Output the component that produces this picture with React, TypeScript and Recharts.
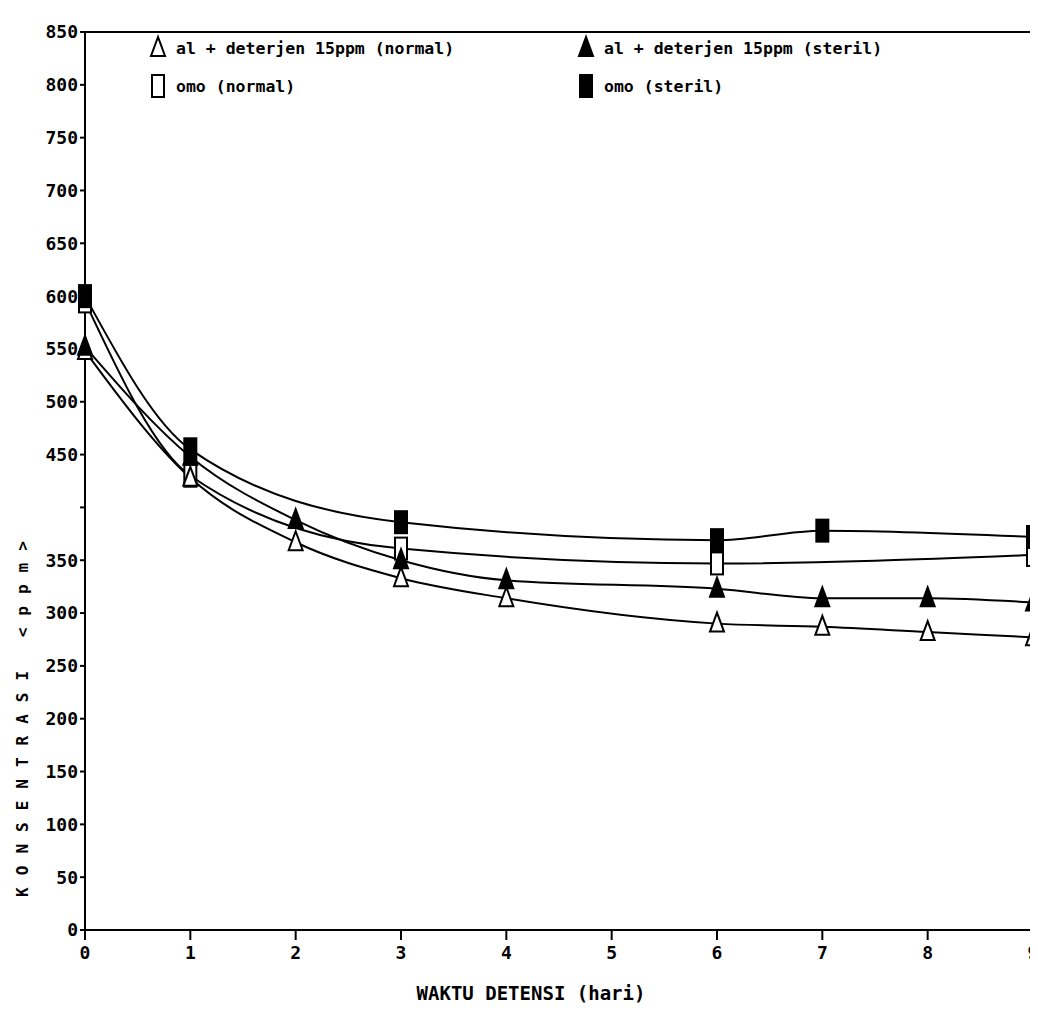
import {
  ComposedChart,
  Line,
  XAxis,
  YAxis,
  ReferenceLine,
  Label,
  Customized,
} from 'recharts'

const FONT = '"DejaVu Sans Mono", monospace'

// hari pengamatan
const days = [0, 1, 2, 3, 4, 6, 7, 8, 9]
const alNormal = [548, 428, 367, 333, 314, 290, 287, 282, 277]
const alSteril = [552, 448, 388, 350, 331, 323, 314, 314, 310]
const omoNormal = [595, 430, null, 361, null, 347, null, null, 355]
const omoSteril = [600, 455, null, 386, null, 369, 378, null, 372]

const xTicks = [0, 1, 2, 3, 4, 5, 6, 7, 8, 9]
const yTicks = [0, 50, 100, 150, 200, 250, 300, 350, 400, 450, 500, 550, 600, 650, 700, 750, 800, 850]

const data = days.map((d, i) => ({
  day: d,
  alNormal: alNormal[i],
  alSteril: alSteril[i],
  omoNormal: omoNormal[i],
  omoSteril: omoSteril[i],
}))

type Shape = 'tri' | 'sq'

const legendItems: { label: string; shape: Shape; filled: boolean }[] = [
  { label: 'al + deterjen 15ppm (normal)', shape: 'tri', filled: false },
  { label: 'al + deterjen 15ppm (steril)', shape: 'tri', filled: true },
  { label: 'omo (normal)', shape: 'sq', filled: false },
  { label: 'omo (steril)', shape: 'sq', filled: true },
]

function Marker({ cx, cy, shape, filled }: { cx: number; cy: number; shape: Shape; filled: boolean }) {
  const fill = filled ? '#000' : '#fff'
  if (shape === 'tri') {
    return (
      <polygon
        points={`${cx},${cy - 11} ${cx - 7},${cy + 8} ${cx + 7},${cy + 8}`}
        fill={fill}
        stroke="#000"
        strokeWidth={2}
      />
    )
  }
  return <rect x={cx - 6} y={cy - 11} width={12} height={22} fill={fill} stroke="#000" strokeWidth={2} />
}

const makeDot = (shape: Shape, filled: boolean) => (props: any) => {
  const { cx, cy, value, index, dataKey } = props
  if (value == null || cx == null || cy == null) return <g key={`${dataKey}-${index}`} />
  return (
    <g key={`${dataKey}-${index}`}>
      <Marker cx={cx} cy={cy} shape={shape} filled={filled} />
    </g>
  )
}

// legenda di dalam kotak grafik
function LegendBox() {
  const pos = [
    { x: 142, y: 24 },
    { x: 570, y: 24 },
    { x: 142, y: 62 },
    { x: 570, y: 62 },
  ]
  return (
    <g>
      {legendItems.map((it, i) => (
        <g key={it.label} transform={`translate(${pos[i].x},${pos[i].y})`}>
          <Marker cx={8} cy={16} shape={it.shape} filled={it.filled} />
          <text x={26} y={22} fontFamily={FONT} fontWeight="bold" fontSize={16.5} fill="#000">
            {it.label}
          </text>
        </g>
      ))}
    </g>
  )
}

function YTitle() {
  return (
    <text
      x={20}
      y={705}
      transform="rotate(-90 20 705)"
      textAnchor="middle"
      fontFamily={FONT}
      fontWeight="bold"
      fontSize={16}
      letterSpacing={12}
      fill="#000"
    >
      KONSENTRASI &lt;ppm&gt;
    </text>
  )
}

export default function App() {
  const tickStyle = { fill: '#000', fontSize: 18, fontFamily: FONT, fontWeight: 'bold' as const }
  return (
    <div style={{ width: 1030, height: 1000, background: '#fff' }}>
      <ComposedChart
        width={1030}
        height={1000}
        data={data}
        margin={{ top: 24, right: 5, left: 0, bottom: 0 }}
        style={{ overflow: 'visible' }}
      >
        <XAxis
          dataKey="day"
          type="number"
          domain={[0, 9]}
          ticks={xTicks}
          interval={0}
          stroke="#000"
          strokeWidth={2}
          tickSize={10}
          tickMargin={6}
          tick={tickStyle}
          height={78}
        >
          <Label
            value="WAKTU DETENSI (hari)"
            position="insideBottom"
            offset={8}
            dx={-28}
            style={{ fill: '#000', fontSize: 19, fontFamily: FONT, fontWeight: 'bold' }}
          />
        </XAxis>
        <YAxis
          type="number"
          domain={[0, 850]}
          ticks={yTicks}
          interval={0}
          stroke="#000"
          strokeWidth={2}
          tickSize={5}
          tickMargin={2}
          width={77}
          tick={tickStyle}
          tickFormatter={(v: number) => (v === 400 ? '' : String(v))}
        />
        <ReferenceLine y={850} stroke="#000" strokeWidth={2} />
        <ReferenceLine x={9} stroke="#000" strokeWidth={2} />
        <Line
          type="monotone"
          dataKey="omoNormal"
          stroke="#000"
          strokeWidth={2}
          connectNulls
          dot={makeDot('sq', false)}
          isAnimationActive={false}
        />
        <Line
          type="monotone"
          dataKey="alNormal"
          stroke="#000"
          strokeWidth={2}
          connectNulls
          dot={makeDot('tri', false)}
          isAnimationActive={false}
        />
        <Line
          type="monotone"
          dataKey="alSteril"
          stroke="#000"
          strokeWidth={2}
          connectNulls
          dot={makeDot('tri', true)}
          isAnimationActive={false}
        />
        <Line
          type="monotone"
          dataKey="omoSteril"
          stroke="#000"
          strokeWidth={2}
          connectNulls
          dot={makeDot('sq', true)}
          isAnimationActive={false}
        />
        <Customized component={LegendBox} />
        <Customized component={YTitle} />
      </ComposedChart>
    </div>
  )
}
